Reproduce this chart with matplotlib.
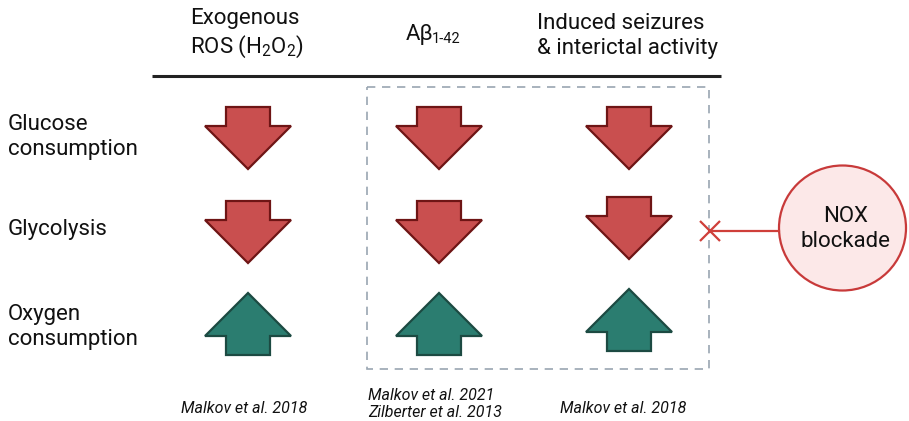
import matplotlib
matplotlib.use("Agg")
import matplotlib.pyplot as plt
from matplotlib.patches import Polygon, Rectangle, Ellipse

plt.rcParams['font.family'] = ['Roboto', 'DejaVu Sans']
plt.rcParams['mathtext.fontset'] = 'custom'
plt.rcParams['mathtext.rm'] = 'Roboto'
plt.rcParams['mathtext.it'] = 'Roboto:italic'

# ---- data ----
columns = ["Exogenous\nROS (H$_2$O$_2$)", "A\u03b2", "Induced seizures\n& interictal activity"]
column_sub = ["", "1-42", ""]
rows = ["Glucose\nconsumption", "Glycolysis", "Oxygen\nconsumption"]
# +1 = increase (up arrow), -1 = decrease (down arrow); rows x columns
effects = [[-1, -1, -1],
           [-1, -1, -1],
           [+1, +1, +1]]
citations = ["Malkov et al. 2018", "Malkov et al. 2021\nZilberter et al. 2013", "Malkov et al. 2018"]
intervention = "NOX\nblockade"

# ---- layout (pixel coordinates) ----
W, H = 909, 421
fig = plt.figure(figsize=(W / 100, H / 100), dpi=100)
ax = fig.add_axes([0, 0, 1, 1])
ax.set_xlim(0, W)
ax.set_ylim(H, 0)
ax.axis('off')

col_x = [248, 439, 629]
row_top = [107, 201, 293]
col_dy = [[0, 0, 0], [0, 0, -4], [0, 0, -4]]

RED, RED_EDGE = '#c94f4f', '#6e1515'
GREEN, GREEN_EDGE = '#2b7d70', '#1c4a42'
TXT = '#111111'

def arrow(cx, top, direction):
    sw, hw, sl, hl = 22, 43, 19, 43
    if direction < 0:
        pts = [(cx - sw, top), (cx + sw, top), (cx + sw, top + sl), (cx + hw, top + sl),
               (cx, top + sl + hl), (cx - hw, top + sl), (cx - sw, top + sl)]
        fc, ec = RED, RED_EDGE
    else:
        pts = [(cx, top), (cx + hw, top + hl), (cx + sw, top + hl), (cx + sw, top + hl + sl),
               (cx - sw, top + hl + sl), (cx - sw, top + hl), (cx - hw, top + hl)]
        fc, ec = GREEN, GREEN_EDGE
    ax.add_patch(Polygon(pts, closed=True, facecolor=fc, edgecolor=ec, lw=1.6, joinstyle='miter'))

for i, r in enumerate(rows):
    for j in range(len(columns)):
        arrow(col_x[j], row_top[i] + col_dy[i][j], effects[i][j])

# row labels (baseline of the last line)
row_base = [155, 235, 345]
for i, r in enumerate(rows):
    ax.text(8, row_base[i], r, ha='left', va='baseline', fontsize=16, color=TXT,
            linespacing=1.28)

# headers (baseline of the last line)
head_x = [190, 406, 537]
head_base = [53, 40, 54]
for j, c in enumerate(columns):
    t = ax.text(head_x[j], head_base[j], c, ha='left', va='baseline', fontsize=16,
                color=TXT, linespacing=1.28)
    if column_sub[j]:
        ax.annotate(column_sub[j], xy=(1, 0), xycoords=t, xytext=(-1.2, -1.0),
                    textcoords='offset points', ha='left', va='bottom', fontsize=10.5,
                    color=TXT)

ax.plot([152, 721], [76, 76], color='#222222', lw=2.2, solid_capstyle='butt')

# dashed box
ax.add_patch(Rectangle((367, 87), 342, 282, fill=False, edgecolor='#9aa6b2', lw=1.2,
                       linestyle=(0, (5, 4))))

# citations
ax.text(244, 413, citations[0], ha='center', va='baseline', fontsize=11.5, style='italic',
        color=TXT)
ax.text(368, 417, citations[1], ha='left', va='baseline', fontsize=11.5, style='italic',
        color=TXT, linespacing=1.15)
ax.text(623, 413, citations[2], ha='center', va='baseline', fontsize=11.5, style='italic',
        color=TXT)

# NOX blockade
INH = '#cf3f3a'
ax.plot([710, 779], [231, 231], color=INH, lw=1.6)
ax.plot([710], [231], marker='x', markersize=14, mew=1.6, color=INH)
ax.add_patch(Ellipse((842.5, 228), 127, 125, facecolor='#fce8e8', edgecolor='#c83a3a', lw=1.6))
ax.text(846, 229, intervention, ha='center', va='center', fontsize=16, color=TXT,
        linespacing=1.2)

fig.savefig('out.png', dpi=100)
